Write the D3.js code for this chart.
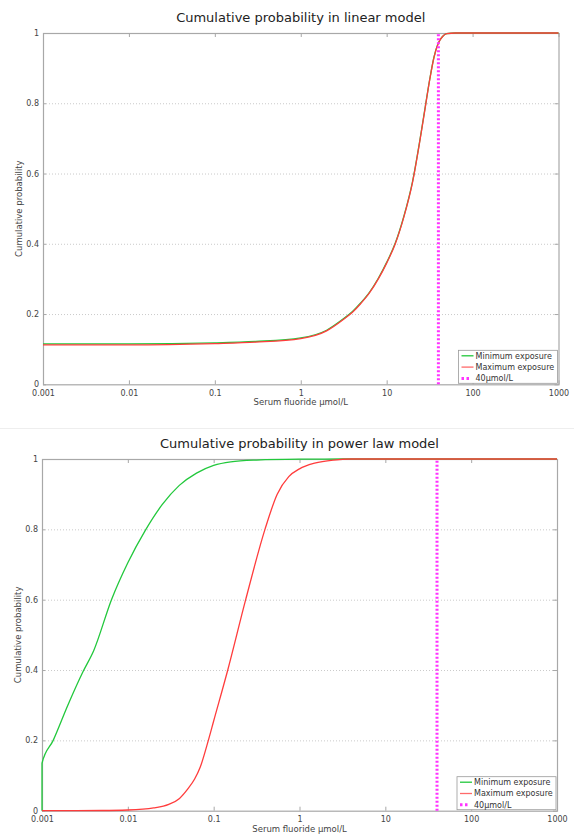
<!DOCTYPE html>
<html>
<head>
<meta charset="utf-8">
<script src="https://cdn.jsdelivr.net/npm/d3@7"></script>
<style>
  body { margin: 0; background: #fff; }
  svg { display: block; font-family: "DejaVu Sans", sans-serif; }
</style>
</head>
<body>
<svg id="chart" width="574" height="835"></svg>
<script>
// linear model
const linX   = [0.001, 0.01, 0.1, 0.3, 1, 2, 3.16, 4, 5, 6.3, 8, 10, 12.6, 15.8, 20, 25, 28.2, 31.6, 35.5, 39.8, 44.7, 50, 63, 1000];
const linMin = [0.115, 0.115, 0.118, 0.122, 0.132, 0.154, 0.187, 0.207, 0.232, 0.262, 0.302, 0.347, 0.402, 0.477, 0.577, 0.712, 0.792, 0.866, 0.931, 0.971, 0.99, 0.998, 1, 1];
const linMax = [0.112, 0.112, 0.116, 0.12, 0.13, 0.152, 0.185, 0.205, 0.23, 0.26, 0.30, 0.345, 0.40, 0.475, 0.575, 0.71, 0.79, 0.865, 0.93, 0.97, 0.99, 0.998, 1, 1];

// power law model
const powMinX = [0.001, 0.001, 0.00135, 0.002, 0.003, 0.004, 0.00645, 0.01, 0.0158, 0.0251, 0.0398, 0.0631, 0.1, 0.158, 0.316, 1, 3.16, 1000];
const powMin  = [0, 0.135, 0.2, 0.3, 0.395, 0.455, 0.6, 0.705, 0.795, 0.87, 0.925, 0.96, 0.982, 0.992, 0.997, 0.9995, 1, 1];
const powMaxX = [0.001, 0.005, 0.01, 0.02, 0.03, 0.04, 0.05, 0.06, 0.07, 0.0867, 0.1, 0.146, 0.236, 0.396, 0.55, 0.75, 1, 1.5, 2.5, 4, 1000];
const powMax  = [0, 0.0005, 0.002, 0.008, 0.018, 0.035, 0.062, 0.09, 0.125, 0.2, 0.255, 0.4, 0.6, 0.8, 0.9, 0.95, 0.972, 0.988, 0.997, 1, 1];

const xTicks = [0.001, 0.01, 0.1, 1, 10, 100, 1000];
const yTicks = [0, 0.2, 0.4, 0.6, 0.8, 1];
const threshold = 40;
const legendNames = ["Minimum exposure", "Maximum exposure", "40\u00b5mol/L"];

const C = { green: "#22c83c", red: "#ff3c3c", mag: "#ff33ff", axis: "#a8a8a8", grid: "#bdbdbd", text: "#444", title: "#222" };

const svg = d3.select("#chart");

// faint border between the two pictures
svg.append("line").attr("x1", 0).attr("x2", 574).attr("y1", 428.5).attr("y2", 428.5)
  .attr("stroke", "#eeeeee").attr("stroke-width", 1);

function drawChart(o) {
  const x = d3.scaleLog().domain([0.001, 1000]).range([o.left, o.right]);
  const y = d3.scaleLinear().domain([0, 1]).range([o.bottom, o.top]);
  const g = svg.append("g");

  g.append("text")
    .attr("x", (o.left + o.right) / 2).attr("y", o.top - 11)
    .attr("text-anchor", "middle").attr("font-size", "13px").attr("fill", C.title)
    .text(o.title);

  // dotted grid
  g.selectAll(".grid").data(yTicks.filter(t => t > 0 && t < 1)).enter().append("line")
    .attr("x1", o.left).attr("x2", o.right)
    .attr("y1", d => y(d) + 0.5).attr("y2", d => y(d) + 0.5)
    .attr("stroke", C.grid).attr("stroke-width", 0.8).attr("stroke-dasharray", "1,2");

  // frame
  g.append("rect")
    .attr("x", o.left + 0.5).attr("y", o.top + 0.5)
    .attr("width", o.right - o.left).attr("height", o.bottom - o.top)
    .attr("fill", "none").attr("stroke", C.axis).attr("stroke-width", 1.2);

  // x axis labels and inward ticks
  const xa = g.append("g").attr("transform", "translate(0," + o.bottom + ")")
    .call(d3.axisBottom(x).tickValues(xTicks).tickFormat(d3.format("~g")).tickSize(-4).tickPadding(6));
  const xt = g.append("g").attr("transform", "translate(0," + o.top + ")")
    .call(d3.axisTop(x).tickValues(xTicks).tickFormat("").tickSize(-4));
  const ya = g.append("g").attr("transform", "translate(" + o.left + ",0)")
    .call(d3.axisLeft(y).tickValues(yTicks).tickFormat(d3.format("~g")).tickSize(-3).tickPadding(4));
  const yr = g.append("g").attr("transform", "translate(" + o.right + ",0)")
    .call(d3.axisRight(y).tickValues(yTicks).tickFormat("").tickSize(-4));
  [xa, xt, ya, yr].forEach(a => {
    a.select(".domain").remove();
    a.selectAll(".tick line").attr("stroke", C.axis);
    a.selectAll("text").attr("fill", C.text).attr("font-size", "8px").attr("font-family", "DejaVu Sans, sans-serif");
  });

  g.append("text")
    .attr("x", (o.left + o.right) / 2).attr("y", o.bottom + 21)
    .attr("text-anchor", "middle").attr("font-size", "8.5px").attr("fill", C.text)
    .text("Serum fluoride \u00b5mol/L");
  g.append("text")
    .attr("transform", "translate(" + (o.left - 21) + "," + ((o.top + o.bottom) / 2) + ") rotate(-90)")
    .attr("text-anchor", "middle").attr("font-size", "8.5px").attr("fill", C.text)
    .text("Cumulative probability");

  const lineOf = xs => d3.line().x((d, i) => x(xs[i])).y(d => y(d)).curve(d3.curveMonotoneX);

  g.append("path").datum(o.minY)
    .attr("d", lineOf(o.minX))
    .attr("fill", "none").attr("stroke", C.green).attr("stroke-width", 1.3);
  g.append("path").datum(o.maxY)
    .attr("d", lineOf(o.maxX))
    .attr("fill", "none").attr("stroke", C.red).attr("stroke-width", 1.3);

  g.append("line")
    .attr("x1", x(threshold)).attr("x2", x(threshold))
    .attr("y1", y(0)).attr("y2", y(1))
    .attr("stroke", C.mag).attr("stroke-width", 3).attr("stroke-dasharray", "2,2");

  // legend
  const lw = 99, lh = 33;
  const lg = g.append("g").attr("transform", "translate(" + (o.right - lw - 1) + "," + (o.bottom - lh - 1) + ")");
  lg.append("rect").attr("width", lw).attr("height", lh)
    .attr("fill", "#fff").attr("stroke", "#999").attr("stroke-width", 0.8);
  const styles = [
    { c: C.green, w: 1.3, dash: null },
    { c: "#ff6a6a", w: 1.3, dash: null },
    { c: C.mag, w: 3, dash: "2.5,2.5" }
  ];
  legendNames.forEach((name, i) => {
    const yy = 5.5 + i * 11.3;
    lg.append("line").attr("x1", 3).attr("x2", i === 2 ? 12 : 15).attr("y1", yy).attr("y2", yy)
      .attr("stroke", styles[i].c).attr("stroke-width", styles[i].w)
      .attr("stroke-dasharray", styles[i].dash);
    lg.append("text").attr("x", 17).attr("y", yy + 3)
      .attr("font-size", "8px").attr("fill", "#333").text(name);
  });
}

drawChart({
  title: "Cumulative probability in linear model",
  left: 43, right: 558.5, top: 33, bottom: 384.3,
  minX: linX, minY: linMin, maxX: linX, maxY: linMax
});

drawChart({
  title: "Cumulative probability in power law model",
  left: 42, right: 557, top: 459, bottom: 810.7,
  minX: powMinX, minY: powMin, maxX: powMaxX, maxY: powMax
});
</script>
</body>
</html>
